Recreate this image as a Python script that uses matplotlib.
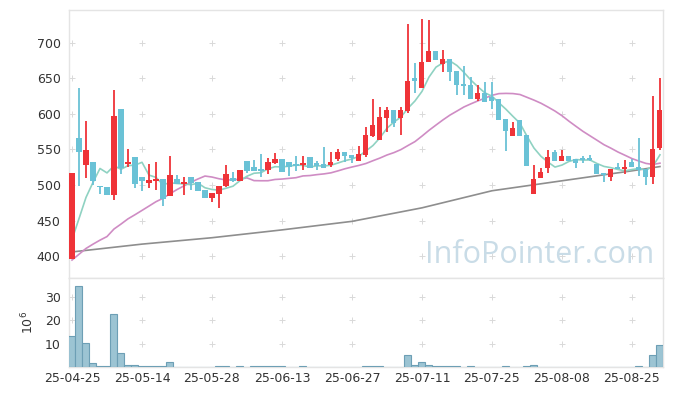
import numpy as np
import pandas as pd
import matplotlib
matplotlib.use("Agg")
import matplotlib.pyplot as plt

# 일봉 데이터 (시가, 고가, 저가, 종가)
opens = [396, 566, 527.5, 532, 499, 497.5, 486, 607, 530, 539,
         511, 503, 506, 508, 484, 508, 502, 511, 504, 493,
         482, 487.5, 498, 510, 506, 534, 525, 522, 521, 531,
         536.5, 532.5, 529, 528, 539.5, 530.5, 529, 527.5, 537, 546.5,
         542.5, 534, 542, 569, 563, 594.5, 605.5, 594.5, 604.5, 650,
         637, 672.5, 688, 669.5, 676.5, 660, 642.5, 640, 621.5, 629.5,
         624, 621, 593, 568.5, 591, 570, 487, 510, 524, 546,
         534, 541, 537, 538, 537.5, 529.5, 516.5, 511, 525, 522,
         532.5, 525, 522, 511, 552.5]
highs = [517, 637, 590, 532, 499, 497.5, 633, 607, 550.5, 539,
         511, 529, 532, 508, 541, 514, 511, 511, 504, 493,
         489, 499, 528.5, 518, 521, 534, 535, 544, 537.5, 545.5,
         536.5, 532.5, 541, 541.5, 539.5, 534, 553, 546, 550.5, 546.5,
         542.5, 555, 582, 620.5, 610, 610, 605.5, 610, 727, 671,
         734, 731.5, 688, 690.5, 676.5, 660, 667, 652, 640, 644.5,
         644.5, 621, 593, 588.5, 591, 570, 528, 523.5, 549, 549,
         549, 541, 537, 541, 542, 529.5, 516.5, 522.5, 530.5, 535,
         536, 566, 522, 625, 650]
lows = [396, 499, 510.5, 500, 488, 486, 479, 516, 525, 496.5,
        492, 496.5, 493, 470, 484, 501, 486, 493, 491.5, 482,
        476.5, 468, 497, 504, 506, 516.5, 520, 512, 515, 529.5,
        518, 512.5, 520, 521, 524.5, 521, 524.5, 526, 534, 532,
        530.5, 534, 540, 568, 563, 575, 581, 570, 601.5, 629,
        637, 672.5, 675.5, 659, 646.5, 626.5, 626.5, 621, 618.5, 617,
        606.5, 592, 548, 568.5, 569, 527, 487, 510, 516.5, 534,
        534, 534, 524.5, 530.5, 534, 516, 504, 505.5, 522.5, 515,
        525, 512.5, 500, 501, 549]
closes = [517, 547, 549, 506, 497.5, 486, 597, 524, 532, 501,
          506, 507, 508, 481, 514, 501, 504, 502.5, 491.5, 482,
          489, 499, 516, 506, 521, 520, 520, 520, 532.5, 536.5,
          518, 526, 527, 531, 524.5, 527, 524.5, 532.5, 546.5, 541,
          538.5, 544, 570, 584.5, 595.5, 605.5, 587.5, 605.5, 646, 646.5,
          672.5, 688, 675.5, 676.5, 659.5, 640.5, 639.5, 621, 629.5, 617,
          618, 592, 576, 579.5, 569, 527, 508.5, 518, 539, 534,
          541, 534, 531.5, 535, 535, 516, 513.5, 522.5, 522.5, 525.5,
          525, 521, 511, 550, 605.5]
# 거래량 (백만주)
volumes = [13.2, 34.5, 10.3, 1.7, 0.4, 0.4, 22.5, 6.1, 0.8, 0.8,
           0.4, 0.4, 0.4, 0.4, 2.3, 0.05, 0.05, 0.05, 0.05, 0.05,
           0.05, 0.4, 0.4, 0.05, 0.4, 0.05, 0.4, 0.4, 0.4, 0.4,
           0.4, 0.05, 0.05, 0.4, 0.05, 0.05, 0.05, 0.05, 0.05, 0.05,
           0.05, 0.05, 0.4, 0.4, 0.4, 0.05, 0.05, 0.05, 5.1, 0.8,
           2.3, 0.8, 0.4, 0.4, 0.4, 0.4, 0.05, 0.4, 0.05, 0.05,
           0.05, 0.05, 0.4, 0.05, 0.05, 0.4, 0.8, 0.05, 0.05, 0.05,
           0.05, 0.05, 0.05, 0.05, 0.05, 0.05, 0.05, 0.05, 0.05, 0.05,
           0.05, 0.4, 0.05, 5.1, 9.3]
# 차트 시작 이전 종가 (이동평균 계산용)
prev_closes = [385] * 15 + [400] * 4
# 장기 이동평균선
ma_long_idx = [0, 10, 20, 30, 40, 50, 60, 70, 80, 84]
ma_long_val = [406, 417, 426, 437, 449, 468, 492, 506, 520, 526]

tick_idx = [0, 10, 20, 30, 40, 50, 60, 70, 80]
tick_labels = ["25-04-25", "25-05-14", "25-05-28", "25-06-13", "25-06-27",
               "25-07-11", "25-07-25", "25-08-08", "25-08-25"]
price_ticks = [400, 450, 500, 550, 600, 650, 700]
vol_ticks = [10, 20, 30]

UP = "#ef3338"
DOWN = "#6ac2d6"
GRID = "#d9d9d9"
SPINE = "#e4e4e4"

o = np.array(opens); h = np.array(highs); l = np.array(lows); c = np.array(closes)
x = np.arange(len(c))
allc = pd.Series(prev_closes + closes)
ma5 = allc.rolling(5).mean().values[len(prev_closes):]
ma20 = allc.rolling(20).mean().values[len(prev_closes):]

fig = plt.figure(figsize=(6.73, 3.96), dpi=100)
ax = fig.add_axes([0.1025, 0.298, 0.8826, 0.6767])
axv = fig.add_axes([0.1025, 0.0732, 0.8826, 0.2248], sharex=ax)

# 격자 대신 + 표시
gx, gy = np.meshgrid(tick_idx, price_ticks)
ax.scatter(gx.ravel(), gy.ravel(), marker="+", s=18, color=GRID, lw=0.7, zorder=0)
gx, gy = np.meshgrid(tick_idx, vol_ticks)
axv.scatter(gx.ravel(), gy.ravel(), marker="+", s=18, color=GRID, lw=0.7, zorder=0)

# 워터마크
ax.text(0.985, 0.085, "InfoPointer.com", transform=ax.transAxes, ha="right", va="center",
        fontsize=22, color="#c9dce7", family="Open Sans", zorder=1)

# 이동평균선
ax.plot(ma_long_idx, ma_long_val, color="#8e8e8e", lw=1.2, zorder=2)
ax.plot(x, ma20, color="#cf8cc4", lw=1.2, zorder=2)
ax.plot(x, ma5, color="#8fd2c2", lw=1.2, zorder=2)

# 캔들
up = c >= o
colors = np.where(up, UP, DOWN)
ax.vlines(x, l, h, colors=colors, lw=1.3, zorder=3)
body = np.maximum(np.abs(c - o), 0.9)
ax.bar(x, body, bottom=np.minimum(o, c), width=0.72, color=colors, lw=0, zorder=4)

ax.set_xlim(-0.43, 84.43)
ax.set_ylim(369.4, 746)
ax.set_yticks(price_ticks)
ax.tick_params(axis="x", labelbottom=False, length=0)
ax.tick_params(axis="y", length=0, labelsize=9, labelcolor="#333333", pad=6)

# 거래량
axv.bar(x, volumes, width=1.0, color="#9cc4d3", edgecolor="#6d9fb5", lw=0.8, zorder=3)
axv.set_ylim(0, 38)
axv.set_yticks(vol_ticks)
axv.set_xticks(tick_idx)
axv.set_xticklabels(tick_labels)
axv.tick_params(length=0, labelsize=9, labelcolor="#333333")
axv.tick_params(axis="y", pad=6)
axv.set_ylabel("$10^6$", fontsize=9, color="#333333", labelpad=6)

for a in (ax, axv):
    for s in a.spines.values():
        s.set_color(SPINE)
        s.set_linewidth(1)

fig.savefig("out.png", dpi=100)
